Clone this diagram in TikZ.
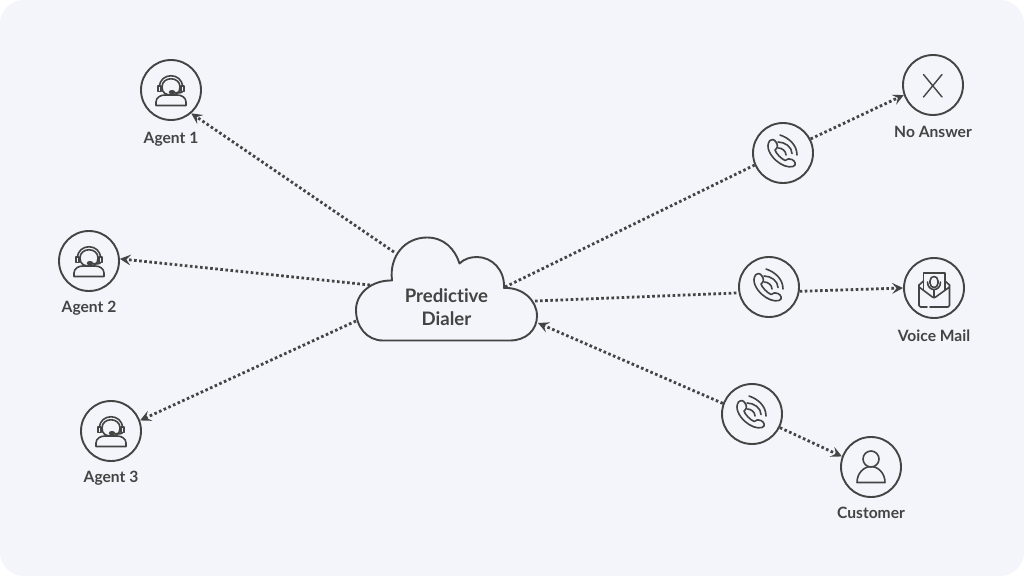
\documentclass[tikz,border=0pt]{standalone}
\usepackage{fontspec}
\setmainfont[Ligatures=NoCommon]{Lato}
\usetikzlibrary{arrows.meta}
\definecolor{ink}{HTML}{444444}
\definecolor{bg}{HTML}{F3F5FA}
\tikzset{
  x=1pt,y=-1pt,
  round/.style={circle,draw=ink,line width=1.9pt,minimum size=60pt,inner sep=0pt,fill=none},
  lbl/.style={font=\bfseries\fontsize{15.6}{18}\selectfont,text=ink,inner sep=0pt,anchor=base},
  link/.style={draw=ink,line width=2.8pt,dash pattern=on 2.6pt off 2.5pt},
  tip/.style={-{Stealth[length=11pt,width=11pt,inset=4.5pt,line width=0pt]}},
  ico/.style={draw=ink,line width=1.6pt,line join=round,line cap=round},
}
\newcommand{\agenticon}[2]{%
 \begin{scope}[shift={(#1,#2)}]
  \draw[ico] (-15,15.5) -- (15,15.5) -- (15,12) .. controls (15,7) and (10,5) .. (6,5) -- (-6,5) .. controls (-10,5) and (-15,7) .. (-15,12) -- cycle;
  \draw[ico] (-9,-3) .. controls (-9,-14) and (9,-14) .. (9,-3) .. controls (9,3) and (5,5) .. (0,5) .. controls (-5,5) and (-9,3) .. (-9,-3) -- cycle;
  \draw[ico] (-11.5,-3) .. controls (-11.5,-18) and (11.5,-18) .. (11.5,-3);
  \draw[ico,fill=bg] (-13,-4) rectangle (-10,1.5);
  \draw[ico,fill=bg] (10,-4) rectangle (13,1.5);
  \draw[ico] (11.5,1.5) .. controls (11,3) and (8,3) .. (3,2.5);
  \draw[ico,fill=ink] (1,2.2) ellipse (2.4 and 1.4);
 \end{scope}}
\newcommand{\phoneicon}[2]{%
 \begin{scope}[shift={(#1,#2)}]
  \draw[ico] (-13.5,-12) .. controls (-17.5,-6) and (-13,2) .. (-7,7.5) .. controls (-2,12) and (5,15) .. (10,13.5) .. controls (14,12) and (12,8) .. (9,6.5) .. controls (7,5) and (4,6) .. (2,7.5) .. controls (-2,5.5) and (-7,0.5) .. (-8,-3) .. controls (-5,-5) and (-5,-8) .. (-7,-11) .. controls (-9,-14) and (-11,-14) .. (-13.5,-12) -- cycle;
  \draw[ico] (-4.5,-5) .. controls (-1,-5) and (3,-2) .. (3,2);
  \draw[ico] (-5,-11) .. controls (2,-11) and (9,-6) .. (9,0.5);
  \draw[ico] (-3,-18) .. controls (6,-15) and (14,-8) .. (14,2);
 \end{scope}}
\begin{document}
\begin{tikzpicture}
\useasboundingbox (0,0) rectangle (1024,576);
\fill[white] (0,0) rectangle (1024,576);
\fill[bg,rounded corners=24pt] (0,0) rectangle (1024,576);
% cloud
\draw[draw=ink,line width=1.9pt,line join=round,fill=bg]
 (383,340.5) .. controls (367,340.5) and (356,327) .. (356,310)
 .. controls (356,293) and (372,280) .. (392,280.5)
 .. controls (389,256) and (405,237.5) .. (427,237.5)
 .. controls (444,237.5) and (455,249) .. (459.5,263.5)
 .. controls (464,259) and (470,257) .. (477,257)
 .. controls (492,257) and (505,270) .. (504,288)
 .. controls (522,287) and (537,300) .. (537,316)
 .. controls (537,330) and (526,340.5) .. (510,340.5) -- cycle;
\node[font=\fontsize{18.6}{23}\selectfont\bfseries,text=ink,align=center,inner sep=0pt] (dialer) at (446.5,307) {Predictive\\[-0.4pt]Dialer};
% cloud contact points
\coordinate (c1) at (394,252);
\coordinate (c2) at (370,285);
\coordinate (c3) at (356,321);
\coordinate (c4) at (505,287);
\coordinate (c5) at (535,301);
\coordinate (c6) at (538,323);
% circles
\node[round] (agent1) at (171,90) {};
\node[round] (agent2) at (89,261) {};
\node[round] (agent3) at (111,431) {};
\node[round] (noans) at (933,85) {};
\node[round] (vmail) at (934,288) {};
\node[round] (cust) at (871,467) {};
\node[round] (ph1) at (783,153) {};
\node[round] (ph2) at (769,287) {};
\node[round] (ph3) at (752,414) {};
% labels
\node[lbl] (l1) at (171,143) {Agent 1};
\node[lbl] (l2) at (89,312) {Agent 2};
\node[lbl] (l3) at (111,482) {Agent 3};
\node[lbl] (l4) at (933,137) {No Answer};
\node[lbl] (l5) at (934,341) {Voice Mail};
\node[lbl] (l6) at (871,518) {Customer};
% connectors
\draw[link,tip] (c1) -- (agent1.-49);
\draw[link,tip] (c2) -- (agent2.4);
\draw[link,tip] (c3) -- (agent3.20);
\draw[link] (c4) -- (ph1.203);
\draw[link,tip] (ph1.27) -- (noans.199);
\draw[link] (c5) -- (ph2.191);
\draw[link,tip] (ph2.-8) -- (vmail.180);
\draw[link,tip] (ph3.160) -- (c6);
\draw[link,tip] (ph3.-26) -- (cust.160);
% icons
\agenticon{171}{90}
\agenticon{89}{261}
\agenticon{111}{431}
\phoneicon{783}{153}
\phoneicon{769}{287}
\phoneicon{752}{414}
\draw[ico,line width=1.4pt] (923.5,74.5) -- (942,97) (942,74.5) -- (923.5,97);
% voice mail icon
\begin{scope}[shift={(934,288)}]
 \draw[ico] (-15,-3) -- (-10.5,-7) (15.5,-3) -- (11,-7);
 \draw[ico] (-10.5,2) -- (-10.5,-15) -- (11,-15) -- (11,2);
 \draw[ico] (-7,19) -- (-13.5,19) .. controls (-14.5,19) and (-15,18.5) .. (-15,17.5) -- (-15,-3) (-15,-1) -- (-1,9.5) -- (1,9.5) -- (15.5,-1) (15.5,-3) -- (15.5,17.5) .. controls (15.5,18.5) and (15,19) .. (14,19) -- (-4,19);
 \draw[ico] (-4,-6) -- (-4,-7) .. controls (-4,-13) and (4,-13) .. (4,-7) -- (4,-5) .. controls (4,1) and (-4,1) .. (-4,-5) -- cycle;
 \draw[ico] (-6.5,-6) .. controls (-6.5,4) and (6.5,4) .. (6.5,-6);
 \draw[ico] (0,2) -- (0,9);
\end{scope}
% customer icon
\begin{scope}[shift={(871,467)}]
 \draw[ico] (-14,15.5) .. controls (-14,6) and (-7,-0.5) .. (0,-0.5) .. controls (7,-0.5) and (14,6) .. (14,15.5) -- cycle;
 \draw[ico,fill=bg] (0,-8) circle (8);
\end{scope}
\end{tikzpicture}
\end{document}
